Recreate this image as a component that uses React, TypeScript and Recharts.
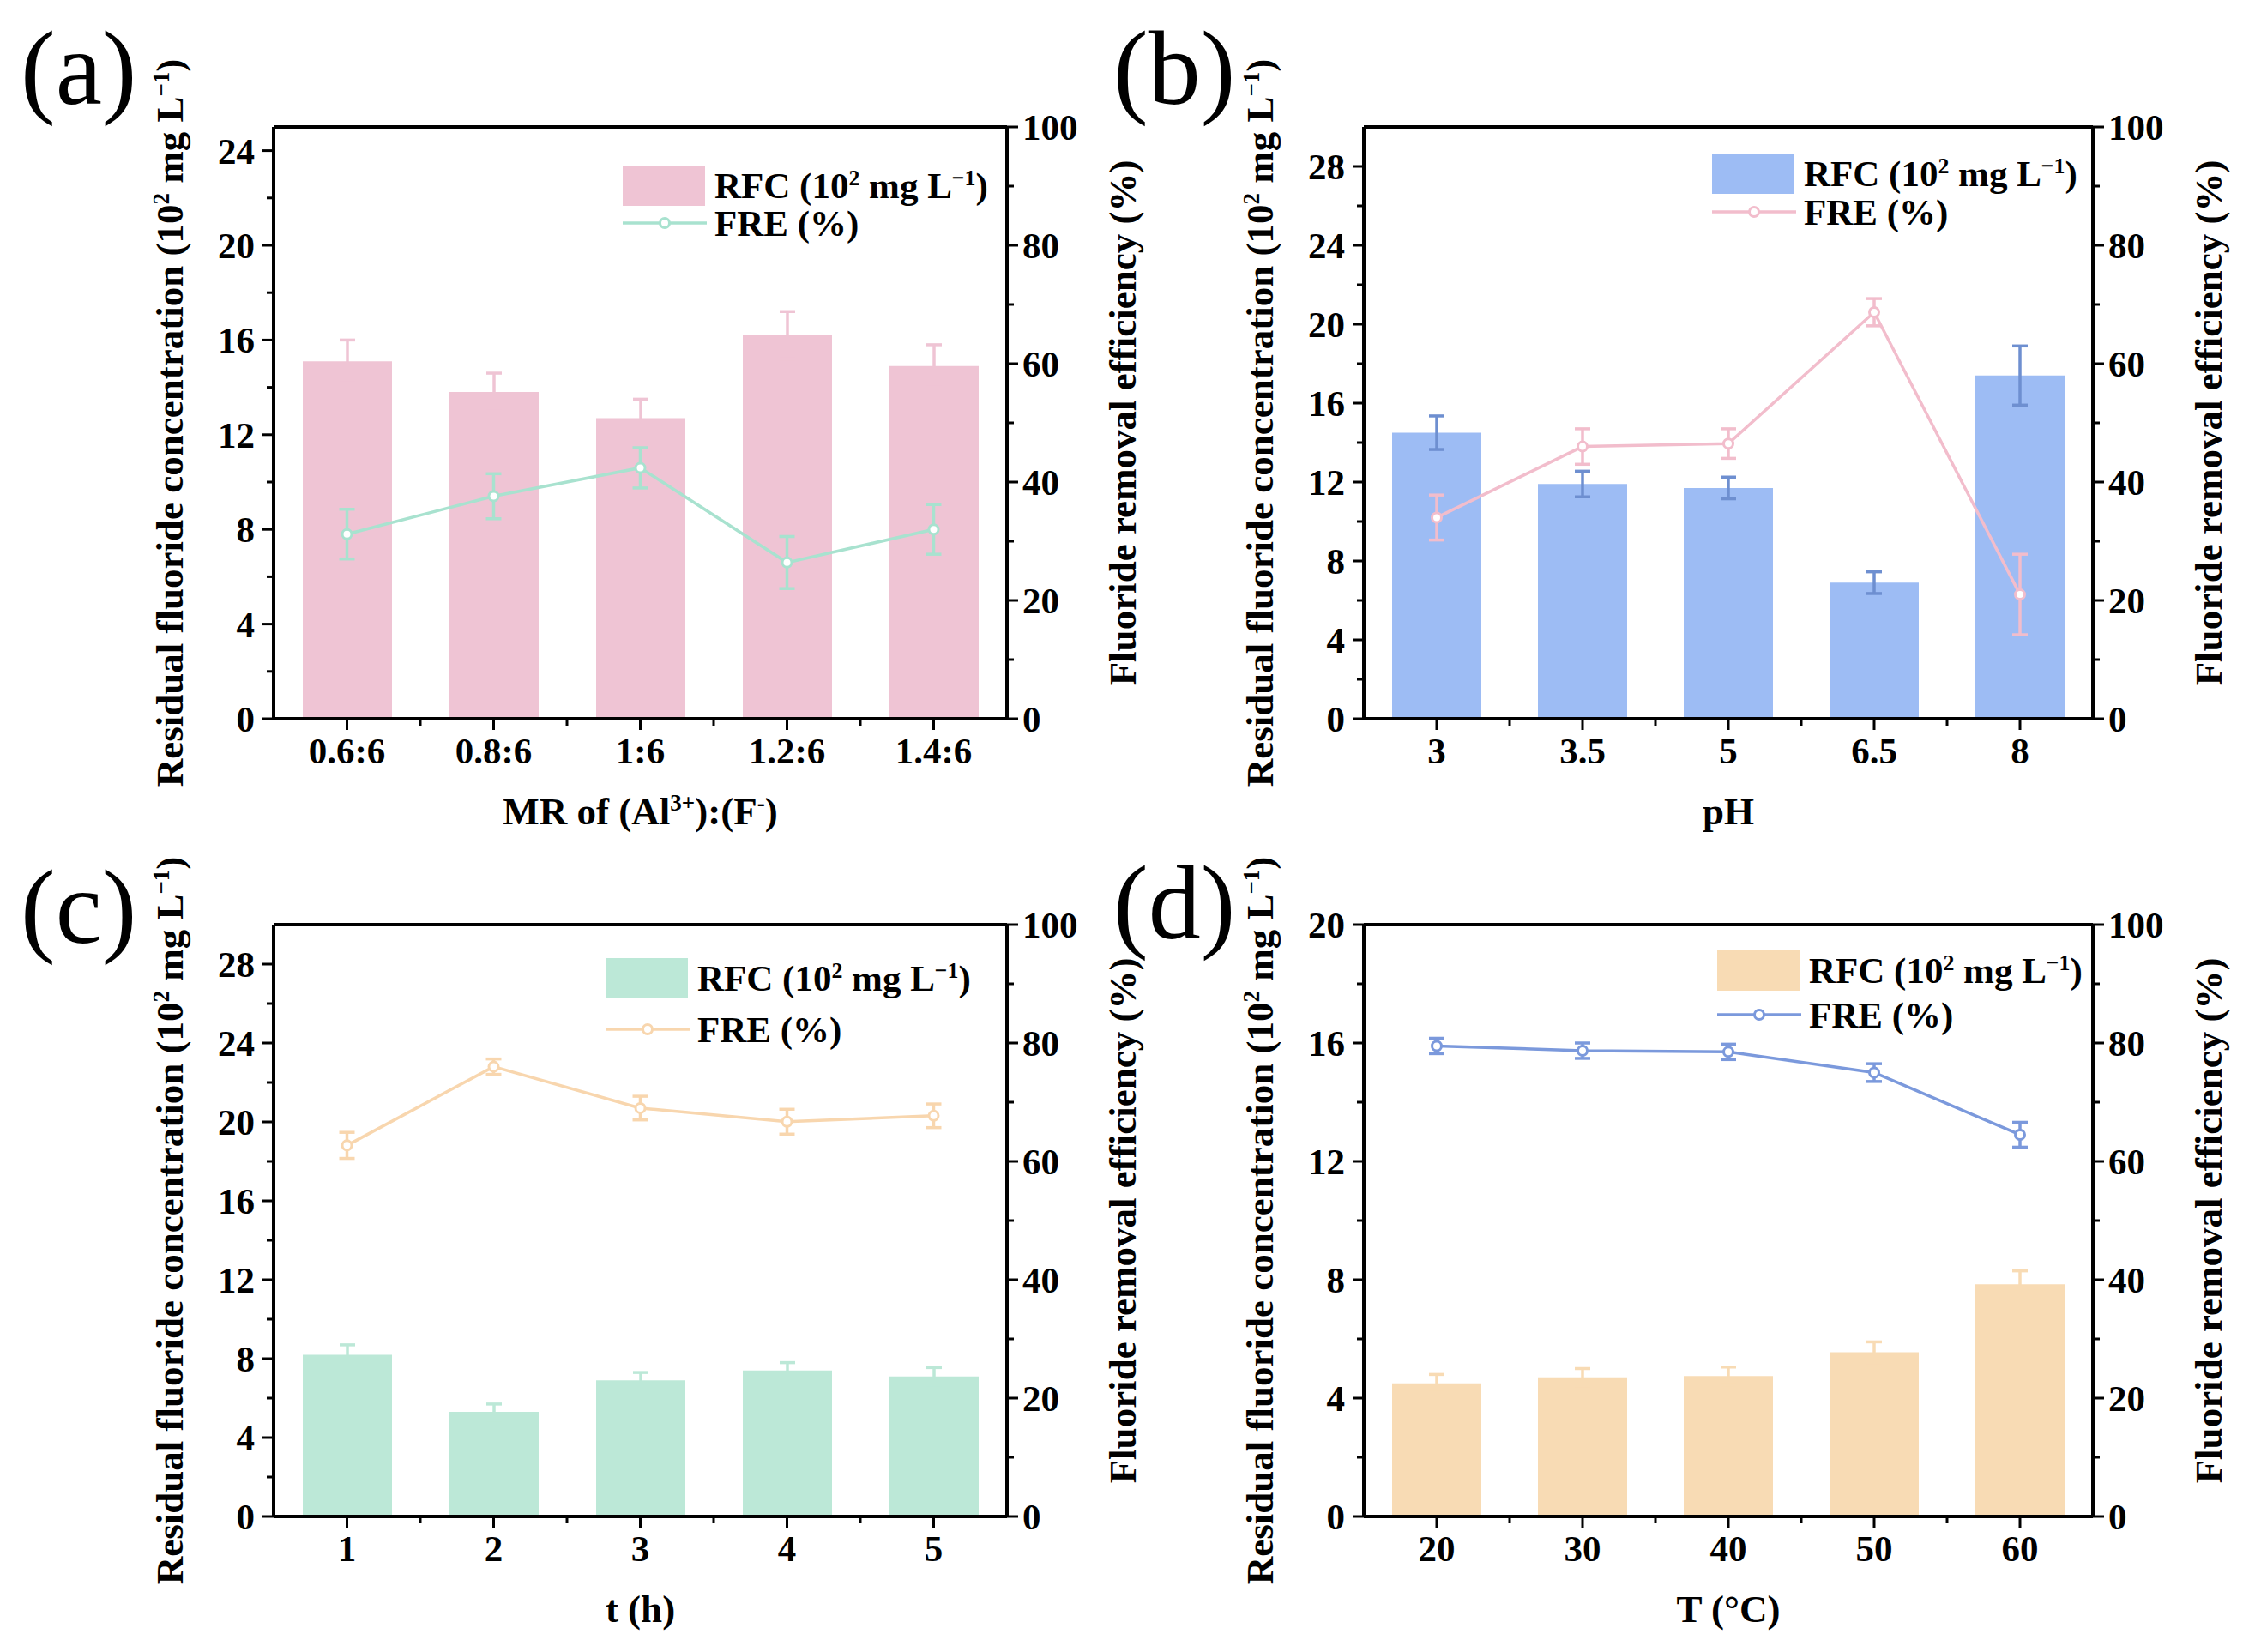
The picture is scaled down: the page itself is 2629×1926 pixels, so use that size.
import React from 'react';
import { ComposedChart, Bar, Line, XAxis, YAxis, ErrorBar, ReferenceLine } from 'recharts';

// (a) molar ratio
const catsA = ['0.6:6', '0.8:6', '1:6', '1.2:6', '1.4:6'];
const rfcA = [15.1, 13.8, 12.7, 16.2, 14.9];
const rfcErrA = [0.9, 0.8, 0.8, 1.0, 0.9];
const freA = [31.2, 37.6, 42.4, 26.4, 32.0];
const freErrA = [4.2, 3.8, 3.4, 4.4, 4.2];
const leftTicksA = [0, 4, 8, 12, 16, 20, 24];

// (b) pH
const catsB = ['3', '3.5', '5', '6.5', '8'];
const rfcB = [14.5, 11.9, 11.7, 6.9, 17.4];
const rfcErrB = [0.85, 0.65, 0.55, 0.55, 1.5];
const freB = [34.0, 46.0, 46.5, 68.7, 21.0];
const freErrB = [3.8, 3.0, 2.5, 2.3, 6.8];
const leftTicksB = [0, 4, 8, 12, 16, 20, 24, 28];

// (c) time
const catsC = ['1', '2', '3', '4', '5'];
const rfcC = [8.2, 5.3, 6.9, 7.4, 7.1];
const rfcErrC = [0.5, 0.4, 0.4, 0.4, 0.45];
const freC = [62.7, 76.0, 69.0, 66.7, 67.7];
const freErrC = [2.2, 1.3, 2.0, 2.1, 2.0];
const leftTicksC = [0, 4, 8, 12, 16, 20, 24, 28];

// (d) temperature
const catsD = ['20', '30', '40', '50', '60'];
const rfcD = [4.5, 4.7, 4.75, 5.55, 7.85];
const rfcErrD = [0.3, 0.3, 0.3, 0.35, 0.45];
const freD = [79.5, 78.7, 78.5, 75.0, 64.5];
const freErrD = [1.3, 1.3, 1.3, 1.5, 2.1];
const leftTicksD = [0, 4, 8, 12, 16, 20];

const rightTicks = [0, 20, 40, 60, 80, 100];

const FONT = "'Liberation Serif', 'Times New Roman', serif";
const TICK_FS = 43;
const TITLE_FS = 45;
const AXW = 100;
const AXH = 60;
const MAJOR = 13;
const MINOR = 8;
const AXIS = { stroke: '#000', strokeWidth: 4 };

const withMinor = (ticks: number[]) => {
  const out: number[] = [];
  ticks.forEach((t, i) => {
    out.push(t);
    if (i < ticks.length - 1) out.push((t + ticks[i + 1]) / 2);
  });
  return out;
};

const Sup = ({ children }: { children: React.ReactNode }) => (
  <span style={{ fontSize: '0.6em', position: 'relative', top: '-0.6em' }}>{children}</span>
);

const rfcLabel = (
  <>
    RFC (10<Sup>2</Sup> mg L<Sup>−1</Sup>)
  </>
);
const yLeftTitle = (
  <>
    Residual fluoride concentration (10<Sup>2</Sup> mg L<Sup>−1</Sup>)
  </>
);

type Plot = { l: number; r: number; t: number; b: number };

type PanelProps = {
  cats: string[];
  rfc: number[];
  rfcErr: number[];
  fre: number[];
  freErr: number[];
  leftTicks: number[];
  leftMax: number;
  barColor: string;
  barErrColor: string;
  lineColor: string;
  xTitle: React.ReactNode;
  letter: string;
  letterPos: [number, number];
  box: [number, number, number, number];
  plot: Plot;
  legend: [number, number, number];
};

const Panel = (p: PanelProps) => {
  const [bx, by, bw, bh] = p.box;
  const { plot } = p;
  const band = (plot.r - plot.l) / p.cats.length;
  const data = p.cats.map((c, i) => ({
    cat: c,
    rfc: p.rfc[i],
    rfcErr: p.rfcErr[i],
    fre: p.fre[i],
    freErr: p.freErr[i],
  }));
  const majorsL = new Set(p.leftTicks);
  const majorsR = new Set(rightTicks);
  const margin = {
    left: plot.l - bx - AXW,
    right: bx + bw - plot.r - AXW,
    top: plot.t - by,
    bottom: by + bh - plot.b - AXH,
  };
  const textStyle = { fontFamily: FONT, fontWeight: 700, fontSize: TICK_FS, fill: '#000' };

  const LeftTick = (t: any) => {
    const major = majorsL.has(t.payload.value);
    return (
      <g>
        <line x1={t.x - (major ? MAJOR : MINOR)} x2={t.x} y1={t.y} y2={t.y} stroke="#000" strokeWidth={3} />
        {major && (
          <text x={t.x - MAJOR - 9} y={t.y} dy="0.35em" textAnchor="end" style={textStyle}>
            {t.payload.value}
          </text>
        )}
      </g>
    );
  };
  const RightTick = (t: any) => {
    const major = majorsR.has(t.payload.value);
    return (
      <g>
        <line x1={t.x} x2={t.x + (major ? MAJOR : MINOR)} y1={t.y} y2={t.y} stroke="#000" strokeWidth={3} />
        {major && (
          <text x={t.x + MAJOR + 5} y={t.y} dy="0.35em" textAnchor="start" style={textStyle}>
            {t.payload.value}
          </text>
        )}
      </g>
    );
  };
  const BottomTick = (t: any) => (
    <g>
      <line x1={t.x} x2={t.x} y1={t.y} y2={t.y + MAJOR} stroke="#000" strokeWidth={3} />
      {t.index < p.cats.length - 1 && (
        <line x1={t.x + band / 2} x2={t.x + band / 2} y1={t.y} y2={t.y + MINOR} stroke="#000" strokeWidth={3} />
      )}
      <text x={t.x} y={t.y + 37} dy="0.35em" textAnchor="middle" style={textStyle}>
        {t.payload.value}
      </text>
    </g>
  );

  const cx = (plot.l + plot.r) / 2;
  const cy = (plot.t + plot.b) / 2;
  const [lgx, lgy, lgGap] = p.legend;
  const legLeft = plot.l + lgx;
  const legTop = plot.t + lgy;

  const titleBase: React.CSSProperties = {
    position: 'absolute',
    fontFamily: FONT,
    fontWeight: 700,
    fontSize: TITLE_FS,
    whiteSpace: 'nowrap',
    lineHeight: 1,
    color: '#000',
  };

  return (
    <>
      <div style={{ position: 'absolute', left: bx, top: by, width: bw, height: bh }}>
        <ComposedChart width={bw} height={bh} data={data} margin={margin}>
          <XAxis
            dataKey="cat"
            height={AXH}
            axisLine={AXIS}
            tickLine={false}
            tickSize={0}
            tickMargin={0}
            interval={0}
            tick={(t: any) => <BottomTick {...t} />}
          />
          <YAxis
            yAxisId="left"
            width={AXW}
            domain={[0, p.leftMax]}
            ticks={withMinor(p.leftTicks)}
            interval={0}
            axisLine={AXIS}
            tickLine={false}
            tickSize={0}
            tickMargin={0}
            tick={(t: any) => <LeftTick {...t} />}
          />
          <YAxis
            yAxisId="right"
            orientation="right"
            width={AXW}
            domain={[0, 100]}
            ticks={withMinor(rightTicks)}
            interval={0}
            axisLine={AXIS}
            tickLine={false}
            tickSize={0}
            tickMargin={0}
            tick={(t: any) => <RightTick {...t} />}
          />
          <ReferenceLine yAxisId="left" y={p.leftMax} stroke="#000" strokeWidth={4} />
          <Bar yAxisId="left" dataKey="rfc" fill={p.barColor} barSize={Math.round(band * 0.61)} isAnimationActive={false}>
            <ErrorBar dataKey="rfcErr" direction="y" width={9} stroke={p.barErrColor} strokeWidth={3.5} />
          </Bar>
          <Line
            yAxisId="right"
            dataKey="fre"
            stroke={p.lineColor}
            strokeWidth={3.5}
            dot={{ r: 5.5, fill: '#fff', stroke: p.lineColor, strokeWidth: 3 }}
            activeDot={false}
            isAnimationActive={false}
          >
            <ErrorBar dataKey="freErr" direction="y" width={9} stroke={p.lineColor} strokeWidth={3.5} />
          </Line>
        </ComposedChart>
      </div>

      {/* panel letter */}
      <div
        style={{
          position: 'absolute',
          left: p.letterPos[0],
          top: p.letterPos[1],
          fontFamily: FONT,
          fontSize: 122,
          lineHeight: 1,
          color: '#000',
        }}
      >
        {p.letter}
      </div>

      {/* axis titles */}
      <div style={{ ...titleBase, left: plot.l - 121, top: cy, transform: 'translate(-50%, -50%) rotate(-90deg)' }}>
        {yLeftTitle}
      </div>
      <div style={{ ...titleBase, left: plot.r + 135, top: cy, transform: 'translate(-50%, -50%) rotate(-90deg)' }}>
        Fluoride removal efficiency (%)
      </div>
      <div style={{ ...titleBase, left: cx, top: plot.b + 108, transform: 'translate(-50%, -50%)' }}>{p.xTitle}</div>

      {/* legend */}
      <div style={{ position: 'absolute', left: legLeft, top: legTop, width: 96, height: 47, background: p.barColor }} />
      <div style={{ ...titleBase, fontSize: TICK_FS, left: legLeft + 107, top: legTop + 23, transform: 'translateY(-50%)' }}>
        {rfcLabel}
      </div>
      <svg style={{ position: 'absolute', left: legLeft, top: legTop + 23 + lgGap - 10 }} width={98} height={20}>
        <line x1={0} x2={98} y1={10} y2={10} stroke={p.lineColor} strokeWidth={3.5} />
        <circle cx={49} cy={10} r={5.5} fill="#fff" stroke={p.lineColor} strokeWidth={3} />
      </svg>
      <div
        style={{ ...titleBase, fontSize: TICK_FS, left: legLeft + 107, top: legTop + 23 + lgGap, transform: 'translateY(-50%)' }}
      >
        FRE (%)
      </div>
    </>
  );
};

const App = () => (
  <div style={{ position: 'absolute', left: 0, top: 0, width: 2629, height: 1926, background: '#fff', overflow: 'hidden' }}>
    <Panel
      cats={catsA}
      rfc={rfcA}
      rfcErr={rfcErrA}
      fre={freA}
      freErr={freErrA}
      leftTicks={leftTicksA}
      leftMax={25}
      barColor="#efc4d4"
      barErrColor="#efc4d4"
      lineColor="#a8e2cf"
      xTitle={
        <>
          MR of (Al<Sup>3+</Sup>):(F<Sup>-</Sup>)
        </>
      }
      letter="(a)"
      letterPos={[24, 19]}
      box={[0, 0, 1314, 963]}
      plot={{ l: 319, r: 1174, t: 148, b: 838 }}
      legend={[407, 45, 44]}
    />
    <Panel
      cats={catsB}
      rfc={rfcB}
      rfcErr={rfcErrB}
      fre={freB}
      freErr={freErrB}
      leftTicks={leftTicksB}
      leftMax={30}
      barColor="#9dbcf4"
      barErrColor="#6e8fd0"
      lineColor="#f2bdcc"
      xTitle="pH"
      letter="(b)"
      letterPos={[1298, 19]}
      box={[1314, 0, 1315, 963]}
      plot={{ l: 1590, r: 2440, t: 148, b: 838 }}
      legend={[406, 31, 45]}
    />
    <Panel
      cats={catsC}
      rfc={rfcC}
      rfcErr={rfcErrC}
      fre={freC}
      freErr={freErrC}
      leftTicks={leftTicksC}
      leftMax={30}
      barColor="#bce8d7"
      barErrColor="#bce8d7"
      lineColor="#f8d6ae"
      xTitle="t (h)"
      letter="(c)"
      letterPos={[24, 997]}
      box={[0, 963, 1314, 963]}
      plot={{ l: 319, r: 1174, t: 1078, b: 1768 }}
      legend={[387, 39, 60]}
    />
    <Panel
      cats={catsD}
      rfc={rfcD}
      rfcErr={rfcErrD}
      fre={freD}
      freErr={freErrD}
      leftTicks={leftTicksD}
      leftMax={20}
      barColor="#f8dbb4"
      barErrColor="#f8dbb4"
      lineColor="#7b99dc"
      xTitle="T (°C)"
      letter="(d)"
      letterPos={[1298, 992]}
      box={[1314, 963, 1315, 963]}
      plot={{ l: 1590, r: 2440, t: 1078, b: 1768 }}
      legend={[412, 30, 52]}
    />
  </div>
);

export default App;
